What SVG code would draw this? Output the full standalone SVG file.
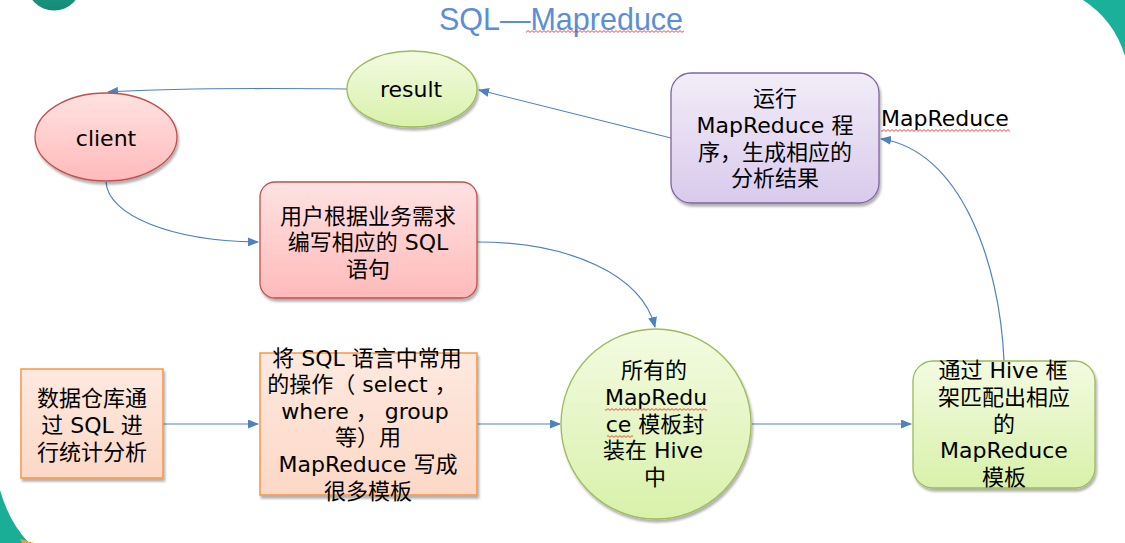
<svg xmlns="http://www.w3.org/2000/svg" width="1125" height="543" viewBox="0 0 1125 543">
<style>
.t{font-family:"DejaVu Sans","Noto Sans CJK SC",sans-serif;font-size:22px;fill:#000;text-anchor:middle}
.c{fill:none;stroke:#4F81BD;stroke-width:1.2;marker-end:url(#ah)}
.sq{fill:url(#wavy)}
</style>
<defs>
<marker id="ah" markerUnits="userSpaceOnUse" markerWidth="11" markerHeight="9" refX="10" refY="4.5" orient="auto">
<path d="M0,0 L11,4.5 L0,9 z" fill="#4F81BD"/>
</marker>
<filter id="sh" x="-10%" y="-10%" width="125%" height="130%">
<feDropShadow dx="1.5" dy="3" stdDeviation="1.2" flood-color="#000" flood-opacity="0.3"/>
</filter>
<linearGradient id="gRed" x1="0" y1="0" x2="0" y2="1"><stop offset="0" stop-color="#FFE2E2"/><stop offset="1" stop-color="#FFBABA"/></linearGradient>
<linearGradient id="gGreen" x1="0" y1="0" x2="0" y2="1"><stop offset="0" stop-color="#F3FBE1"/><stop offset="1" stop-color="#D8F1AA"/></linearGradient>
<linearGradient id="gPurple" x1="0" y1="0" x2="0" y2="1"><stop offset="0" stop-color="#F2EDF8"/><stop offset="1" stop-color="#D9CAEC"/></linearGradient>
<linearGradient id="gOrange" x1="0" y1="0" x2="0" y2="1"><stop offset="0" stop-color="#FEE9DF"/><stop offset="1" stop-color="#FCD8C6"/></linearGradient>
<linearGradient id="gTeal" x1="0" y1="0" x2="0" y2="1"><stop offset="0" stop-color="#2DB39B"/><stop offset="1" stop-color="#148A76"/></linearGradient>
<pattern id="wavy" width="4" height="3" patternUnits="userSpaceOnUse"><path d="M0,0.6 L2,2.4 L4,0.6" fill="none" stroke="#E02020" stroke-width="0.8"/></pattern>
</defs>
<rect width="1125" height="543" fill="#FFFFFF"/>
<g id="decor">
<circle cx="54" cy="-17" r="27.5" fill="url(#gTeal)"/>
<path d="M1083,0 Q1114,20 1125,56 L1125,0 Z" fill="#1BB09A"/>
<path d="M0,490 Q9,522 29,543 L0,543 Z" fill="#1BAE96"/>
<path d="M20,539 Q27,541 34,543 L22,543 Z" fill="#F59A3A"/>
</g>
<g id="title">
<text x="561" y="30" style="font-family:'Liberation Sans',sans-serif;font-size:30.5px;fill:#5B8ED6;text-anchor:middle">SQL—Mapreduce</text>
<rect class="sq" x="526" y="30" width="158" height="3"/>
</g>
<g id="connectors">
<path class="c" d="M347,89 C260,88 160,89 108,92"/>
<path class="c" d="M106,182 C108,215 170,241 258,242"/>
<path class="c" d="M477,242 C570,242 642,275 655,327"/>
<path class="c" d="M163,424 L258,424"/>
<path class="c" d="M477,424 L560,424"/>
<path class="c" d="M752,424 L911,424"/>
<path class="c" d="M1004,361 C1000,262 960,150 881,139"/>
<path class="c" d="M671,138 L479,90"/>
</g>
<g id="client">
<ellipse cx="106" cy="137" rx="71" ry="44" fill="url(#gRed)" stroke="#C0504D" stroke-width="1.3" filter="url(#sh)"/>
<text class="t" x="106" y="146">client</text>
</g>
<g id="result">
<ellipse cx="412" cy="89" rx="65" ry="38" fill="url(#gGreen)" stroke="#9BBB59" stroke-width="1.3" filter="url(#sh)"/>
<text class="t" x="411" y="97">result</text>
</g>
<g id="write-sql">
<rect x="260" y="182" width="217" height="116" rx="15" fill="url(#gRed)" stroke="#C0504D" stroke-width="1.3" filter="url(#sh)"/>
<text class="t" x="368" y="224">用户根据业务需求</text>
<text class="t" x="368" y="250">编写相应的 SQL</text>
<text class="t" x="368" y="277">语句</text>
</g>
<g id="run-mr">
<rect x="671" y="73" width="208" height="130" rx="20" fill="url(#gPurple)" stroke="#8064A2" stroke-width="1.3" filter="url(#sh)"/>
<text class="t" x="775" y="106">运行</text>
<text class="t" x="775" y="133">MapReduce 程</text>
<text class="t" x="775" y="160">序，生成相应的</text>
<text class="t" x="775" y="186">分析结果</text>
</g>
<g id="mr-label">
<text x="881" y="126" style="font-family:'DejaVu Sans',sans-serif;font-size:22px;fill:#000">MapReduce</text>
<rect class="sq" x="881" y="129" width="129" height="3"/>
</g>
<g id="dw">
<rect x="21" y="369" width="142" height="109" fill="url(#gOrange)" stroke="#F79646" stroke-width="1.5" filter="url(#sh)"/>
<text class="t" x="92" y="406">数据仓库通</text>
<text class="t" x="92" y="433">过 SQL 进</text>
<text class="t" x="92" y="460">行统计分析</text>
</g>
<g id="templates">
<rect x="260" y="353" width="217" height="142" fill="url(#gOrange)" stroke="#F79646" stroke-width="1.5" filter="url(#sh)"/>
<text class="t" x="367" y="366">将 SQL 语言中常用</text>
<text class="t" x="362" y="392">的操作（ select ，</text>
<text class="t" x="365" y="419">where ， group</text>
<text class="t" x="368" y="445">等）用</text>
<text class="t" x="368" y="472">MapReduce 写成</text>
<text class="t" x="368" y="499">很多模板</text>
</g>
<g id="hive-wrap">
<ellipse cx="656" cy="424" rx="95" ry="95" fill="url(#gGreen)" stroke="#9BBB59" stroke-width="1.3" filter="url(#sh)"/>
<text class="t" x="654" y="378">所有的</text>
<text class="t" x="656" y="405">MapRedu</text>
<rect class="sq" x="605" y="408" width="102" height="3"/>
<text class="t" x="655" y="432">ce 模板封</text>
<rect class="sq" x="607" y="435" width="26" height="3"/>
<text class="t" x="653" y="458">装在 Hive</text>
<text class="t" x="655" y="485">中</text>
</g>
<g id="hive-match">
<rect x="913" y="361" width="182" height="127" rx="20" fill="url(#gGreen)" stroke="#9BBB59" stroke-width="1.3" filter="url(#sh)"/>
<text class="t" x="1003" y="378">通过 Hive 框</text>
<text class="t" x="1004" y="405">架匹配出相应</text>
<text class="t" x="1004" y="432">的</text>
<text class="t" x="1004" y="458">MapReduce</text>
<text class="t" x="1004" y="485">模板</text>
</g>
</svg>
